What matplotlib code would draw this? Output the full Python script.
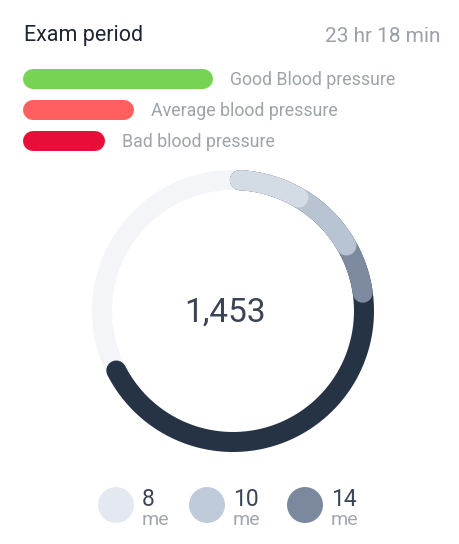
import numpy as np
import matplotlib.pyplot as plt

plt.rcParams['font.family'] = ['Roboto', 'DejaVu Sans']

# legend bars
bar_labels = ["Good Blood pressure", "Average blood pressure", "Bad blood pressure"]
bar_lengths = [190, 111, 82]
bar_colors = ["#77D353", "#FF5F5F", "#E70F3A"]

# ring segments: end angle in degrees, clockwise from the top
ring_start = 3
ring_ends = [30, 60, 82, 243]
ring_colors = ["#D3DBE4", "#B9C4D2", "#7D8AA0", "#263345"]
total = "1,453"

# bottom counters
counts = [8, 10, 14]
count_unit = "me"
count_colors = ["#E4E8F1", "#C0CBD9", "#7B889E"]

W, H = 459, 544
fig = plt.figure(figsize=(W / 100, H / 100), dpi=100)
ax = fig.add_axes([0, 0, 1, 1])
ax.set_xlim(0, W)
ax.set_ylim(H, 0)
ax.axis("off")

px = 72 / 100  # points per pixel

ax.text(24, 36, "Exam period", fontsize=15.5, color="#1F2633", va="center")
ax.text(440, 36, "23 hr 18 min", fontsize=15, color="#9AA1AA", ha="right", va="center")

# rounded legend bars
lw_bar = 20 * px
for i, (lab, n, c) in enumerate(zip(bar_labels, bar_lengths, bar_colors)):
    y = 79 + i * 31
    ax.plot([33, 23 + n - 10], [y, y], color=c, lw=lw_bar, solid_capstyle="round")
    ax.text(23 + n + 17, y + 1, lab, fontsize=12.8, color="#9EA3AA", va="center")

# ring
cx, cy, r = 233, 311, 131
lw_ring = 20 * px


def arc(a0, a1, color):
    t = np.radians(np.linspace(a0, a1, 300))
    ax.plot(cx + r * np.sin(t), cy - r * np.cos(t), color=color, lw=lw_ring,
            solid_capstyle="round")


arc(0, 360, "#F3F5F9")
for end, c in sorted(zip(ring_ends, ring_colors), reverse=True):
    arc(ring_start, end, c)

ax.text(cx - 8, cy + 2, total, fontsize=24, color="#3A4455", ha="center", va="center")

# bottom counters
xs = [116, 207, 305]
ax.scatter(xs, [505] * 3, s=(36 * px) ** 2, c=count_colors, linewidths=0)
for x, n in zip(xs, counts):
    ax.text(x + 26, 500, str(n), fontsize=16.5, color="#3A4455", va="center")
    ax.text(x + 26, 520, count_unit, fontsize=14, color="#A0A6AE", va="center")

fig.savefig("out.png", dpi=100, facecolor="white")
